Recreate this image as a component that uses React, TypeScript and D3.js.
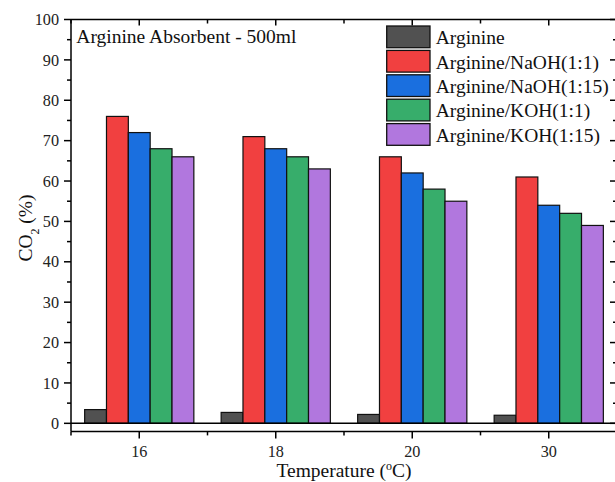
import React from "react";
import * as d3 from "d3";

const categories = ["16", "18", "20", "30"];
const seriesNames = [
  "Arginine",
  "Arginine/NaOH(1:1)",
  "Arginine/NaOH(1:15)",
  "Arginine/KOH(1:1)",
  "Arginine/KOH(1:15)",
];
const arginine = [3.4, 2.7, 2.2, 2.0];
const naoh11 = [76, 71, 66, 61];
const naoh115 = [72, 68, 62, 54];
const koh11 = [68, 66, 58, 52];
const koh115 = [66, 63, 55, 49];
const seriesValues = [arginine, naoh11, naoh115, koh11, koh115];
const colors = ["#515151", "#F14040", "#1A6FDF", "#37AD6B", "#B177DE"];
const yMajorTicks = [0, 10, 20, 30, 40, 50, 60, 70, 80, 90, 100];
const yMinorTicks = [5, 15, 25, 35, 45, 55, 65, 75, 85, 95];

const FONT = "'Liberation Serif', 'Times New Roman', serif";

export default function App() {
  const W = 615, H = 482;
  const L = 71, R = 617, T = 19.5, B = 431.4;
  const x = d3.scaleBand<string>().domain(categories).range([L, R]).paddingInner(0.2).paddingOuter(0.1);
  const step = x.step();
  const xs = d3.scaleBand<string>().domain(seriesNames).range([0, x.bandwidth()]).padding(0);
  const y = d3.scaleLinear().domain([-2, 100]).range([B, T]);

  const centers = categories.map((c) => (x(c) as number) + x.bandwidth() / 2);
  const bounds = d3.range(categories.length + 1).map((i) => L + i * step);

  return (
    <svg width={W} height={H} style={{ position: "absolute", left: 0, top: 0, background: "#fff" }} fontFamily={FONT}>
      <rect x={0} y={0} width={W} height={H} fill="#fff" />
      {/* bars */}
      {seriesNames.map((s, si) =>
        categories.map((c, ci) => {
          const v = seriesValues[si][ci];
          const bx = (x(c) as number) + (xs(s) as number);
          return (
            <rect
              key={s + c}
              x={bx}
              y={y(v)}
              width={xs.bandwidth()}
              height={y(0) - y(v)}
              fill={colors[si]}
              stroke="#111"
              strokeWidth={1.2}
            />
          );
        })
      )}
      {/* zero line */}
      <line x1={L} x2={R} y1={y(0)} y2={y(0)} stroke="#000" strokeWidth={1.5} />
      {/* frame */}
      <line x1={L} x2={R} y1={T} y2={T} stroke="#000" strokeWidth={1.5} />
      <line x1={L} x2={R} y1={B} y2={B} stroke="#000" strokeWidth={1.5} />
      <line x1={L} x2={L} y1={T} y2={B} stroke="#000" strokeWidth={1.5} />
      <line x1={R} x2={R} y1={T} y2={B} stroke="#000" strokeWidth={1.5} />
      {/* left ticks */}
      {yMajorTicks.map((t) => (
        <g key={"ly" + t}>
          <line x1={L - 7} x2={L} y1={y(t)} y2={y(t)} stroke="#000" strokeWidth={1.5} />
          <line x1={R - 7} x2={R} y1={y(t)} y2={y(t)} stroke="#000" strokeWidth={1.5} />
          <text x={L - 12} y={y(t)} dy="0.35em" textAnchor="end" fontSize={16.2} fill="#222">
            {t}
          </text>
        </g>
      ))}
      {yMinorTicks.map((t) => (
        <g key={"lym" + t}>
          <line x1={L - 4} x2={L} y1={y(t)} y2={y(t)} stroke="#000" strokeWidth={1.5} />
          <line x1={R - 4} x2={R} y1={y(t)} y2={y(t)} stroke="#000" strokeWidth={1.5} />
        </g>
      ))}
      {/* x ticks */}
      {centers.map((cx, i) => (
        <g key={"xt" + i}>
          <line x1={cx} x2={cx} y1={B} y2={B + 7} stroke="#000" strokeWidth={1.5} />
          <line x1={cx} x2={cx} y1={T} y2={T + 6} stroke="#000" strokeWidth={1.5} />
          <text x={cx} y={457} textAnchor="middle" fontSize={16.2} fill="#222">
            {categories[i]}
          </text>
        </g>
      ))}
      {bounds.map((bx, i) => (
        <g key={"xb" + i}>
          <line x1={bx} x2={bx} y1={B} y2={B + 4} stroke="#000" strokeWidth={1.5} />
          <line x1={bx} x2={bx} y1={T} y2={T + 4} stroke="#000" strokeWidth={1.5} />
        </g>
      ))}
      {/* axis titles */}
      <text x={344} y={477} textAnchor="middle" fontSize={19.5} fill="#111">
        Temperature (<tspan baselineShift="super" fontSize={12}>o</tspan>C)
      </text>
      <text transform={`translate(31.5, 228) rotate(-90)`} textAnchor="middle" fontSize={19.5} fill="#111">
        CO<tspan baselineShift="sub" fontSize={12}>2</tspan> (%)
      </text>
      {/* title */}
      <text x={76.3} y={42.7} fontSize={19.5} fill="#111">
        Arginine Absorbent - 500ml
      </text>
      {/* legend */}
      {seriesNames.map((s, i) => (
        <g key={"lg" + s} transform={`translate(386.7, ${26 + i * 24.4})`}>
          <rect x={0} y={0} width={43.3} height={21.7} fill={colors[i]} stroke="#111" strokeWidth={1.3} />
          <text x={49} y={18.3} fontSize={19.5} fill="#111">
            {s}
          </text>
        </g>
      ))}
    </svg>
  );
}
